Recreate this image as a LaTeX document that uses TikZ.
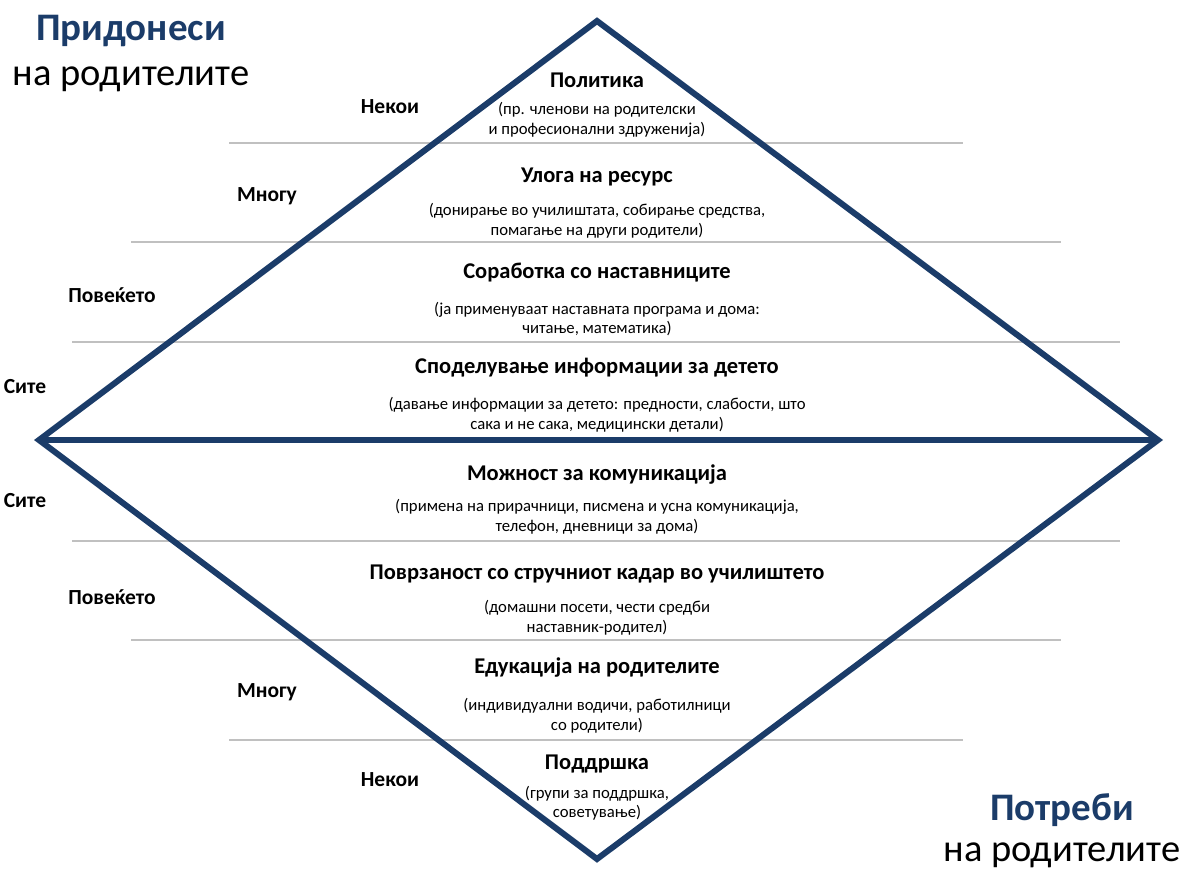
\documentclass[tikz,border=0pt]{standalone}
\usepackage{fontspec}
\setmainfont{Carlito}
\definecolor{navy}{HTML}{1B3C69}
\definecolor{sep}{HTML}{C0C0C0}
\tikzset{
  title/.style={font=\fontsize{22.5}{26}\selectfont\bfseries, anchor=center, inner sep=0pt},
  sub/.style={font=\fontsize{16.7}{19.5}\selectfont, align=center, anchor=center, inner sep=0pt},
  side/.style={font=\fontsize{21.5}{25}\selectfont\bfseries, anchor=center, inner sep=0pt},
  big/.style={font=\fontsize{39}{44}\selectfont\bfseries, text=navy, anchor=center, inner sep=0pt},
  bigsub/.style={font=\fontsize{38.5}{44}\selectfont, anchor=center, inner sep=0pt},
  sepline/.style={draw=sep, line width=2pt},
  frame/.style={draw=navy, line width=6pt, line join=miter}
}
\begin{document}
\begin{tikzpicture}[x=1pt,y=-1pt]
\useasboundingbox (0,0) rectangle (1183,873);
% separator lines
\coordinate (a1) at (229,143); \coordinate (a2) at (963,143);
\coordinate (b1) at (131,242); \coordinate (b2) at (1061,242);
\coordinate (c1) at (72,342);  \coordinate (c2) at (1120,342);
\coordinate (d1) at (72,541);  \coordinate (d2) at (1120,541);
\coordinate (e1) at (131,640); \coordinate (e2) at (1061,640);
\coordinate (f1) at (229,740); \coordinate (f2) at (963,740);
\draw[sepline] (a1) -- (a2);
\draw[sepline] (b1) -- (b2);
\draw[sepline] (c1) -- (c2);
\draw[sepline] (d1) -- (d2);
\draw[sepline] (e1) -- (e2);
\draw[sepline] (f1) -- (f2);
% diamond
\coordinate (top) at (597,21);
\coordinate (lft) at (39,440);
\coordinate (rgt) at (1158,440);
\coordinate (bot) at (597,859);
\draw[frame] (top) -- (rgt) -- (bot) -- (lft) -- cycle;
\draw[frame] (lft) -- (rgt);
% corner titles
\node[big] (t1) at (131,31) {Придонеси};
\node[bigsub] (t1s) at (131,79) {на родителите};
\node[big] (t2) at (1062,810) {Потреби};
\node[bigsub] (t2s) at (1062,855) {на родителите};
% side labels
\node[side] (s1) at (390,107) {Некои};
\node[side] (s2) at (267,196) {Многу};
\node[side] (s3) at (112,295) {Повеќето};
\node[side] (s4) at (25,387) {Сите};
\node[side] (s5) at (25,501) {Сите};
\node[side] (s6) at (112,597) {Повеќето};
\node[side] (s7) at (267,692) {Многу};
\node[side] (s8) at (390,780) {Некои};
% upper contents
\node[title] (p1) at (597,80) {Политика};
\node[sub] (p1s) at (597,120) {(пр. членови на родителски\\и професионални здруженија)};
\node[title] (p2) at (597,177) {Улога на ресурс};
\node[sub] (p2s) at (597,221) {(донирање во училиштата, собирање средства,\\помагање на други родители)};
\node[title] (p3) at (597,273) {Соработка со наставниците};
\node[sub] (p3s) at (597,319) {(ја применуваат наставната програма и дома:\\читање, математика)};
\node[title] (p4) at (597,368) {Споделување информации за детето};
\node[sub] (p4s) at (597,415) {(давање информации за детето: предности, слабости, што\\сака и не сака, медицински детали)};
% lower contents
\node[title] (n1) at (597,474) {Можност за комуникација};
\node[sub] (n1s) at (597,517) {(примена на прирачници, писмена и усна комуникација,\\телефон, дневници за дома)};
\node[title] (n2) at (597,574) {Поврзаност со стручниот кадар во училиштето};
\node[sub] (n2s) at (597,618) {(домашни посети, чести средби\\наставник-родител)};
\node[title] (n3) at (597,667) {Едукација на родителите};
\node[sub] (n3s) at (597,716) {(индивидуални водичи, работилници\\со родители)};
\node[title] (n4) at (597,764) {Поддршка};
\node[sub] (n4s) at (597,803) {(групи за поддршка,\\советување)};
\end{tikzpicture}
\end{document}
